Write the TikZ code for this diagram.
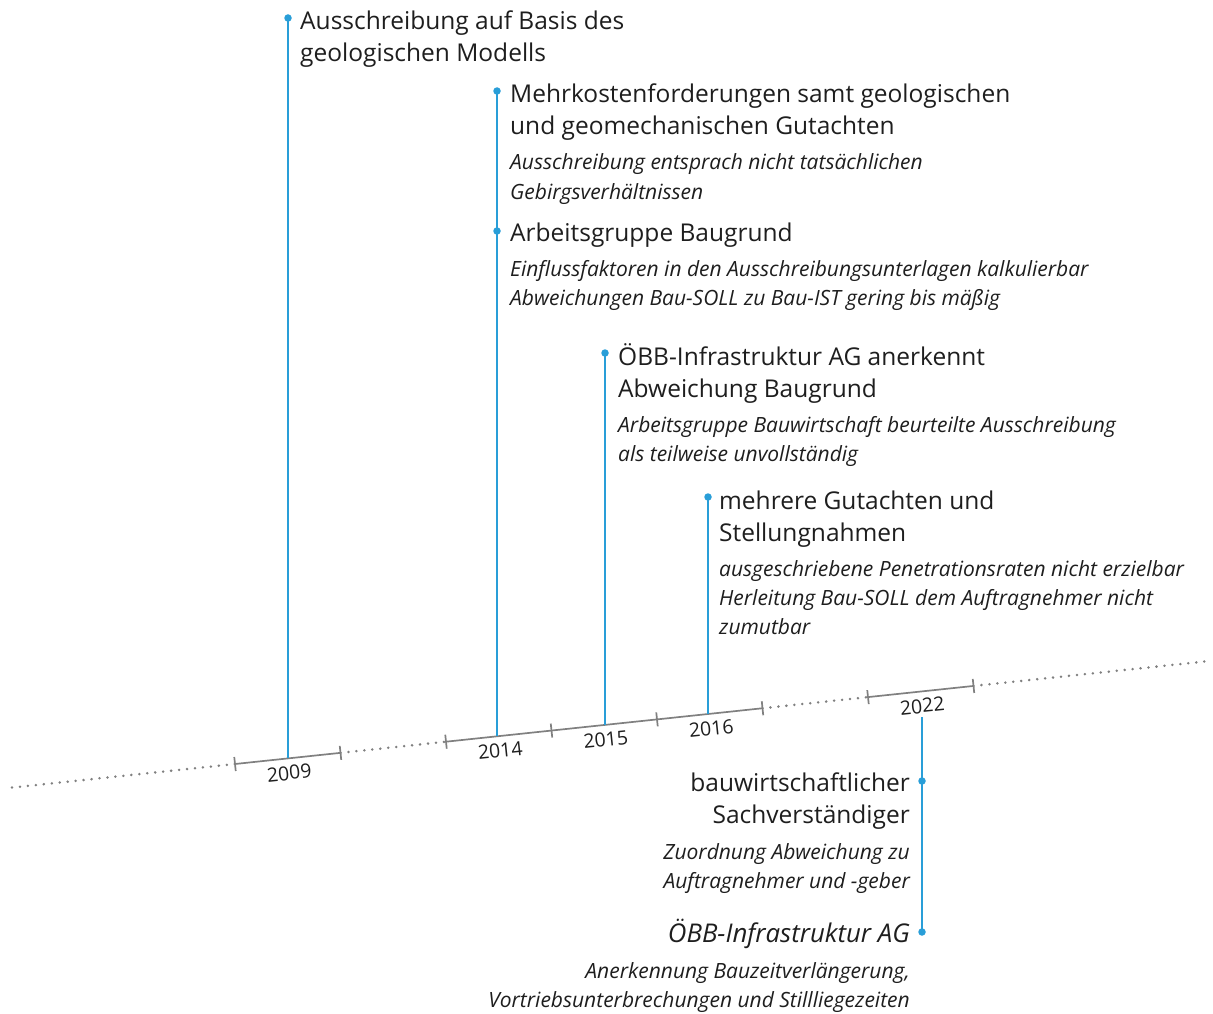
\documentclass[tikz,border=0pt]{standalone}
\usepackage{fontspec}
\setmainfont{Open Sans}
\usetikzlibrary{calc}
\definecolor{tlblue}{RGB}{41,158,216}
\definecolor{axgray}{RGB}{128,128,128}
\definecolor{txt}{RGB}{30,30,30}
\def\ay#1{764-0.1057*(#1-235)}
\begin{document}
\begin{tikzpicture}[x=1pt,y=-1pt,
  axisline/.style={draw=axgray, line width=1.7pt},
  dotline/.style={draw=axgray, line width=2.8pt, line cap=round, dash pattern=on 0pt off 8pt},
  tickmark/.style={draw=axgray, line width=1.7pt},
  yearlbl/.style={font=\fontsize{19.5}{22}\selectfont, text=txt, rotate=6, anchor=center, inner sep=0pt},
  stem/.style={draw=tlblue, line width=1.8pt},
  bullet/.style={circle, fill=tlblue, inner sep=0pt, minimum size=7.5pt},
  title/.style={font=\fontsize{24.5}{32}\selectfont, text=txt, align=left, anchor=base west, inner sep=0pt},
  note/.style={font=\fontsize{21}{29}\selectfont\itshape, text=txt, align=left, anchor=base west, inner sep=0pt},
  rtitle/.style={title, align=right, anchor=base east},
  rnote/.style={note, align=right, anchor=base east},
]
\useasboundingbox (0,0) rectangle (1213,1014);

% axis coordinates
\coordinate (A) at (12,{\ay{12}});
\coordinate (B) at (1210,{\ay{1210}});
\foreach \n/\x in {1/235,2/340.5,3/446,4/551.5,5/657,6/762.5,7/868,8/973.5}{
  \coordinate (T\n) at (\x,{\ay{\x}});
}
% dotted parts
\draw[dotline] (A) -- (T1);
\draw[dotline] (T2) -- (T3);
\draw[dotline] (T6) -- (T7);
\draw[dotline] (T8) -- (B);
% solid parts
\draw[axisline] (T1) -- (T2);
\draw[axisline] (T3) -- (T6);
\draw[axisline] (T7) -- (T8);
% ticks
\foreach \n in {1,...,8}{
  \draw[tickmark] (T\n) ++(0.74,7) -- ++(-1.48,-14);
}
% year labels
\node[yearlbl] (y2009) at ($(T1)!0.5!(T2)+(1.5,14.5)$) {2009};
\node[yearlbl] (y2014) at ($(T3)!0.5!(T4)+(1.5,14.5)$) {2014};
\node[yearlbl] (y2015) at ($(T4)!0.5!(T5)+(1.5,14.5)$) {2015};
\node[yearlbl] (y2016) at ($(T5)!0.5!(T6)+(1.5,14.5)$) {2016};
\node[yearlbl] (y2022) at ($(T7)!0.5!(T8)+(1.5,14.5)$) {2022};

% feet on axis
\coordinate (f2009) at (288,{\ay{288}});
\coordinate (f2014) at (497,{\ay{497}});
\coordinate (f2015) at (605,{\ay{605}});
\coordinate (f2016) at (708,{\ay{708}});
\coordinate (s2022) at (922,717);

% bullets
\node[bullet] (d2009) at (288,18) {};
\node[bullet] (d2014a) at (497,91) {};
\node[bullet] (d2014b) at (497,231) {};
\node[bullet] (d2015) at (605,353) {};
\node[bullet] (d2016) at (708,497) {};
\node[bullet] (d2022a) at (922,781) {};
\node[bullet] (d2022b) at (922,932) {};

% stems
\draw[stem] (d2009.center) -- (f2009);
\draw[stem] (d2014a.center) -- (f2014);
\draw[stem] (d2015.center) -- (f2015);
\draw[stem] (d2016.center) -- (f2016);
\draw[stem] (s2022) -- (d2022b.center);

% texts (anchored at the baseline of their last line)
\node[title] (t2009) at (300,62) {Ausschreibung auf Basis des\\geologischen Modells};

\node[title] (t2014a) at (510,135) {Mehrkostenforderungen samt geologischen\\und geomechanischen Gutachten};
\node[note] (n2014a) at (510,199) {Ausschreibung entsprach nicht tatsächlichen\\Gebirgsverhältnissen};
\node[title] (t2014b) at (510,241) {Arbeitsgruppe Baugrund};
\node[note] (n2014b) at (510,305) {Einflussfaktoren in den Ausschreibungsunterlagen kalkulierbar\\Abweichungen Bau-SOLL zu Bau-IST gering bis mäßig};

\node[title] (t2015) at (618,397) {ÖBB-Infrastruktur AG anerkennt\\Abweichung Baugrund};
\node[note] (n2015) at (618,461) {Arbeitsgruppe Bauwirtschaft beurteilte Ausschreibung\\als teilweise unvollständig};

\node[title] (t2016) at (719,541) {mehrere Gutachten und\\Stellungnahmen};
\node[note] (n2016) at (719,634) {ausgeschriebene Penetrationsraten nicht erzielbar\\Herleitung Bau-SOLL dem Auftragnehmer nicht\\zumutbar};

\node[rtitle] (t2022a) at (910,823) {bauwirtschaftlicher\\Sachverständiger};
\node[rnote] (n2022a) at (910,888) {Zuordnung Abweichung zu\\Auftragnehmer und -geber};
\node[rtitle, font=\fontsize{25.8}{32}\selectfont\itshape] (t2022b) at (910,942) {ÖBB-Infrastruktur AG};
\node[rnote] (n2022b) at (910,1007) {Anerkennung Bauzeitverlängerung,\\Vortriebsunterbrechungen und Stillliegezeiten};
\end{tikzpicture}
\end{document}
